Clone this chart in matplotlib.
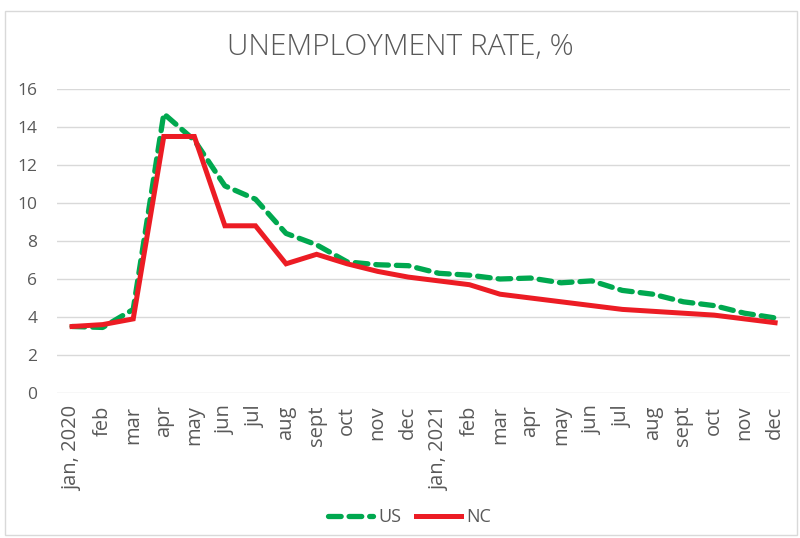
import matplotlib
matplotlib.use("Agg")
import matplotlib.pyplot as plt
from matplotlib.patches import Rectangle

plt.rcParams['font.family'] = ['Open Sans', 'DejaVu Sans']

months = ["jan, 2020", "feb", "mar", "apr", "may", "jun", "jul", "aug", "sept", "oct", "nov", "dec",
          "jan, 2021", "feb", "mar", "apr", "may", "jun", "jul", "aug", "sept", "oct", "nov", "dec"]
us_rate = [3.5, 3.45, 4.4, 14.7, 13.3, 10.9, 10.2, 8.4, 7.8, 6.9, 6.75, 6.7,
           6.3, 6.2, 6.0, 6.05, 5.8, 5.9, 5.4, 5.2, 4.8, 4.6, 4.2, 3.95]
nc_rate = [3.5, 3.6, 3.9, 13.5, 13.5, 8.8, 8.8, 6.8, 7.3, 6.8, 6.4, 6.1,
           5.9, 5.7, 5.2, 5.0, 4.8, 4.6, 4.4, 4.3, 4.2, 4.1, 3.9, 3.7]
y_ticks = [0, 2, 4, 6, 8, 10, 12, 14, 16]

text_color = "#595959"
fig = plt.figure(figsize=(8, 5.38), dpi=100)
ax = fig.add_axes([0.071, 0.2695, 0.917, 0.5651])

x = range(len(months))
ax.plot(x, us_rate, color="#00a84f", lw=3.8, linestyle=(0, (2.4, 1.5)),
        dash_capstyle="round", label="US", zorder=3)
ax.plot(x, nc_rate, color="#ec1c24", lw=3.6, solid_joinstyle="miter", label="NC", zorder=4)

ax.set_xlim(-0.5, len(months) - 0.5)
ax.set_ylim(0, 16)
ax.set_yticks(y_ticks)
ax.set_xticks(list(x))
ax.set_xticklabels(months, rotation=90)
ax.tick_params(axis="both", length=0, colors=text_color)
ax.tick_params(axis="y", pad=14, labelsize=12.5)
ax.tick_params(axis="x", pad=9, labelsize=14.5)
ax.grid(axis="y", color="#d9d9d9", lw=1)
ax.set_axisbelow(True)
for s in ax.spines.values():
    s.set_visible(False)

fig.text(0.5, 0.913, "UNEMPLOYMENT RATE, %", ha="center", va="center",
         fontsize=21.5, color=text_color, fontweight="light")

fig.legend(loc="center", bbox_to_anchor=(0.512, 0.039), ncol=2, frameon=False,
           fontsize=13, labelcolor=text_color, handlelength=2.5, columnspacing=0.8,
           handletextpad=0.3)

fig.patches.append(Rectangle((0.006, 0.005), 0.99, 0.975, transform=fig.transFigure,
                             fill=False, edgecolor="#d9d9d9", lw=1))

fig.savefig("out.png", dpi=100)
